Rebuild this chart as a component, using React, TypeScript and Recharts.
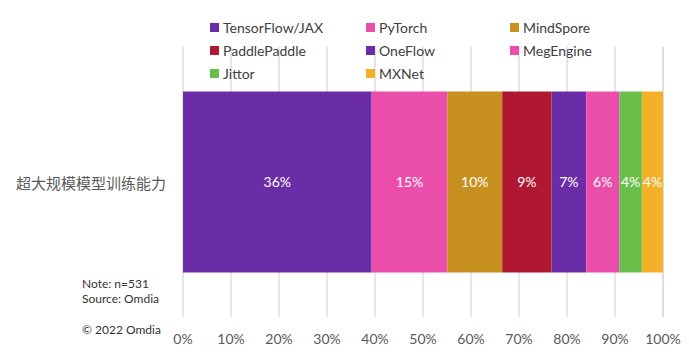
import React from 'react';
import { BarChart, Bar, XAxis, YAxis, CartesianGrid, LabelList, Legend } from 'recharts';

const category = '超大规模模型训练能力';
const frameworks = ['TensorFlow/JAX', 'PyTorch', 'MindSpore', 'PaddlePaddle', 'OneFlow', 'MegEngine', 'Jittor', 'MXNet'];
const shares = [39.3, 15.8, 11.4, 10.3, 7.2, 6.9, 4.7, 4.4];
const labels = [36, 15, 10, 9, 7, 6, 4, 4];
const colors = ['#6B2CA8', '#EB4EAA', '#C8901F', '#AF1830', '#6B2CA8', '#EB4EAA', '#6ABF4B', '#F2B129'];
const xTicks = [0, 10, 20, 30, 40, 50, 60, 70, 80, 90, 100];
const notes = ['Note: n=531', 'Source: Omdia'];
const copyright = '© 2022 Omdia';

const keys = frameworks.map((_, i) => 'f' + i);
const row: Record<string, any> = { name: category };
keys.forEach((k, i) => { row[k] = shares[i]; });
const data = [row];

const FONT = 'Lato, "Noto Sans CJK SC", sans-serif';

const legendCols = [210, 366, 510];
const legendRows = [27, 50, 73];

const renderLegend = () => (
  <div style={{ position: 'relative', width: 689, height: 90 }}>
    {frameworks.map((f, i) => {
      const c = i % 3;
      const r = Math.floor(i / 3);
      return (
        <div key={f} style={{ position: 'absolute', left: legendCols[c], top: legendRows[r] - 9, height: 18, display: 'flex', alignItems: 'center', fontFamily: FONT, fontSize: 14, color: '#404040', whiteSpace: 'nowrap' }}>
          <span style={{ display: 'inline-block', width: 9, height: 9, background: colors[i], marginRight: 4 }} />
          <span>{f}</span>
        </div>
      );
    })}
  </div>
);

const YTick = (props: any) => {
  const { y, payload } = props;
  return (
    <text x={166} y={y} textAnchor="end" dominantBaseline="central" fontFamily={'"Noto Sans CJK SC", sans-serif'} fontSize={15} fill="#595959">
      {payload.value}
    </text>
  );
};

const XTick = (props: any) => {
  const { x, payload } = props;
  return (
    <text x={x} y={338} textAnchor="middle" dominantBaseline="central" fontFamily={FONT} fontSize={14} fill="#595959">
      {payload.value + '%'}
    </text>
  );
};

export default function App() {
  return (
    <div style={{ position: 'absolute', left: 0, top: 0, width: 689, height: 358, background: '#fff' }}>
      <BarChart
        width={689}
        height={358}
        data={data}
        layout="vertical"
        margin={{ top: 47, right: 26, bottom: 21, left: 0 }}
        barCategoryGap="16.5%"
      >
        <CartesianGrid horizontal={false} stroke="#d9d9d9" strokeWidth={1.3} />
        <XAxis type="number" domain={[0, 100]} ticks={xTicks} axisLine={false} tickLine={false} tick={<XTick />} interval={0} height={20} />
        <YAxis type="category" dataKey="name" width={183} axisLine={false} tickLine={false} tick={<YTick />} />
        <Legend
          layout="horizontal"
          verticalAlign="middle"
          align="center"
          content={renderLegend}
          wrapperStyle={{ position: 'absolute', top: 0, left: 0, width: 689, height: 90 }}
        />
        {keys.map((k, i) => (
          <Bar key={k} dataKey={k} stackId="a" fill={colors[i]} isAnimationActive={false}>
            <LabelList
              dataKey={k}
              position="center"
              formatter={() => labels[i] + '%'}
              fill="#ffffff"
              fontFamily={FONT}
              fontSize={14}
            />
          </Bar>
        ))}
      </BarChart>
      {notes.map((n, i) => (
        <div key={n} style={{ position: 'absolute', left: 82, top: 276 + i * 15, fontFamily: FONT, fontSize: 12, color: '#333', whiteSpace: 'nowrap', lineHeight: '16px' }}>{n}</div>
      ))}
      <div style={{ position: 'absolute', left: 82, top: 322, fontFamily: FONT, fontSize: 12, color: '#333', whiteSpace: 'nowrap', lineHeight: '16px' }}>{copyright}</div>
    </div>
  );
}
